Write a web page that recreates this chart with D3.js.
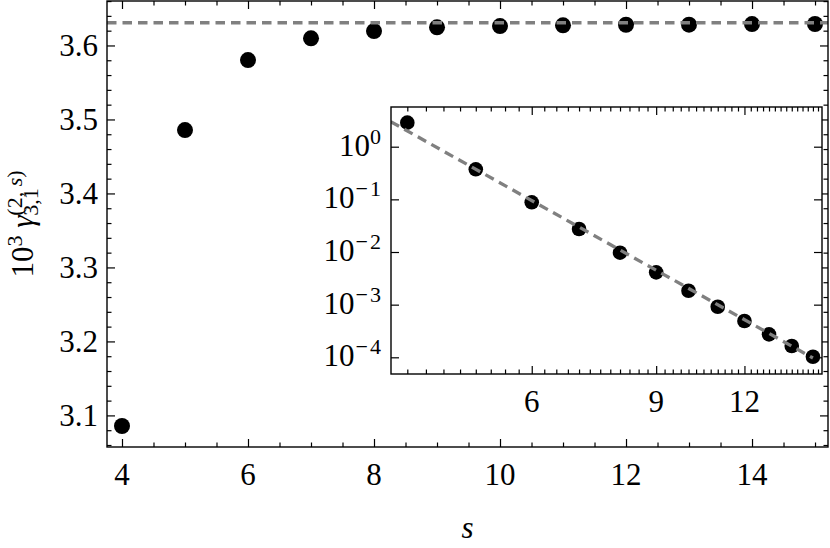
<!DOCTYPE html>
<html>
<head>
<meta charset="utf-8">
<script src="https://cdn.jsdelivr.net/npm/d3@7"></script>
<style>
body{margin:0;background:#fff;}
svg{display:block;font-family:'Liberation Serif','Times New Roman',serif;}
text{fill:#000;}
</style>
</head>
<body>
<div id="chart"></div>
<script>
//data
const sValues = [4,5,6,7,8,9,10,11,12,13,14,15];
const gammaValues = [3.0857,3.4857,3.5803,3.6096,3.6195,3.6245,3.6262,3.6272,3.6280,3.6281,3.6289,3.6290];
const asymptote = 3.6307;
const diffValues = [2.86,0.372,0.0879,0.02735,0.0097,0.00411,0.00184,0.000914,0.000489,0.000273,0.000164,0.0001026];
const fitS = [3.79,15];
const fitValues = [2.99,9.7e-5];
const xTickLabels = [4,6,8,10,12,14];
const yTickLabels = [3.1,3.2,3.3,3.4,3.5,3.6];
const insetXTickLabels = [6,9,12];
const insetYTickExponents = [0,-1,-2,-3,-4];

//layout
const C = {
    WIDTH:830,
    HEIGHT:548,
    LEFT:107, RIGHT:828, TOP:1, BOTTOM:447,          //main frame
    IN_LEFT:391, IN_RIGHT:822, IN_TOP:107, IN_BOTTOM:374, //inset frame
    MAJOR:8, MINOR:4.5,
    FONT:31,
    SCRIPT:22,
    GREY:'#808080'
};

const svg = d3.select('#chart').append('svg')
    .attr('width',C.WIDTH)
    .attr('height',C.HEIGHT);

//scales
const x = d3.scaleLinear().domain([3.762,15.206]).range([C.LEFT,C.RIGHT]);
const y = d3.scaleLinear().domain([3.0573,3.6601]).range([C.BOTTOM,C.TOP]);
const xi = d3.scaleLog().domain([3.793,15.45]).range([C.IN_LEFT,C.IN_RIGHT]);
const yi = d3.scaleLog().domain([Math.pow(10,-4.317),Math.pow(10,0.754)]).range([C.IN_BOTTOM,C.IN_TOP]);

//draws inward ticks on the four sides of a frame
function frameTicks(g,xs,ys,box,xMajor,xMinor,yMajor,yMinor,majLen,minLen){
    const sides = [
        [d3.axisBottom,xs,'translate(0,'+box.bottom+')',xMajor,xMinor],
        [d3.axisTop,xs,'translate(0,'+box.top+')',xMajor,xMinor],
        [d3.axisLeft,ys,'translate('+box.left+',0)',yMajor,yMinor],
        [d3.axisRight,ys,'translate('+box.right+',0)',yMajor,yMinor]
    ];
    sides.forEach(sd=>{
        [[sd[3],majLen],[sd[4],minLen]].forEach(t=>{
            if(!t[0].length) return;
            g.append('g')
                .attr('transform',sd[2])
                .call(sd[0](sd[1]).tickValues(t[0]).tickSize(-t[1]).tickFormat(''))
                .call(a=>a.select('.domain').remove())
                .selectAll('line')
                .attr('stroke','#000')
                .attr('stroke-width',1.2);
        });
    });
}

//---- main plot ----
const defs = svg.append('defs');
defs.append('clipPath').attr('id','mainClip')
    .append('rect')
    .attr('x',C.LEFT).attr('y',C.TOP)
    .attr('width',C.RIGHT-C.LEFT).attr('height',C.BOTTOM-C.TOP);

const mainG = svg.append('g');

let xMinor = d3.range(4,15.01,0.5).filter(v=>v%2!==0);
let yMinor = d3.range(3.06,3.661,0.02).map(v=>+v.toFixed(2)).filter(v=>Math.abs(v*10-Math.round(v*10))>1e-6);
frameTicks(mainG,x,y,{left:C.LEFT,right:C.RIGHT,top:C.TOP,bottom:C.BOTTOM},
    xTickLabels,xMinor,yTickLabels,yMinor,C.MAJOR,C.MINOR);

mainG.selectAll('circle')
    .data(sValues)
    .enter()
    .append('circle')
    .attr('cx',d=>x(d))
    .attr('cy',(d,i)=>y(gammaValues[i]))
    .attr('r',8)
    .attr('fill','#000');

mainG.append('line')
    .attr('clip-path','url(#mainClip)')
    .attr('x1',x.range()[0]).attr('x2',x.range()[1])
    .attr('y1',y(asymptote)).attr('y2',y(asymptote))
    .attr('stroke',C.GREY)
    .attr('stroke-width',3.3)
    .attr('stroke-dasharray','9.5,6');

mainG.append('rect')
    .attr('x',C.LEFT).attr('y',C.TOP)
    .attr('width',C.RIGHT-C.LEFT).attr('height',C.BOTTOM-C.TOP)
    .attr('fill','none')
    .attr('stroke','#000')
    .attr('stroke-width',1.4);

//tick labels
mainG.selectAll('.xlab')
    .data(xTickLabels)
    .enter()
    .append('text')
    .attr('class','xlab')
    .attr('x',d=>x(d))
    .attr('y',C.BOTTOM+38)
    .attr('text-anchor','middle')
    .style('font-size',C.FONT+'px')
    .text(d=>d);

mainG.selectAll('.ylab')
    .data(yTickLabels)
    .enter()
    .append('text')
    .attr('class','ylab')
    .attr('x',C.LEFT-9)
    .attr('y',d=>y(d)+10.5)
    .attr('text-anchor','end')
    .style('font-size',C.FONT+'px')
    .text(d=>d.toFixed(1));

//axis titles
svg.append('text')
    .attr('x',(C.LEFT+C.RIGHT)/2)
    .attr('y',538)
    .attr('text-anchor','middle')
    .style('font-size',C.FONT+'px')
    .style('font-style','italic')
    .text('s');

const yTitle = svg.append('text')
    .attr('transform','translate(33,'+((C.TOP+C.BOTTOM)/2)+') rotate(-90)')
    .style('font-size',C.FONT+'px');
yTitle.append('tspan').text('10');
yTitle.append('tspan').attr('dy',-11).style('font-size',C.SCRIPT+'px').text('3');
yTitle.append('tspan').attr('dy',11).text(' ');
yTitle.append('tspan').style('font-style','italic').text('\u03b3');
const sub = yTitle.append('tspan').attr('dy',5).style('font-size',C.SCRIPT+'px').text('3,1');
const subW = sub.node().getComputedTextLength();
yTitle.append('tspan').attr('dx',-subW).attr('dy',-16).style('font-size',C.SCRIPT+'px').text('(2, ');
yTitle.append('tspan').style('font-size',C.SCRIPT+'px').style('font-style','italic').text('s');
yTitle.append('tspan').style('font-size',C.SCRIPT+'px').text(')');
const tw = yTitle.node().getBBox().width;
yTitle.select('tspan').attr('x',-tw/2);

//---- inset ----
const inG = svg.append('g');
defs.append('clipPath').attr('id','insetClip')
    .append('rect')
    .attr('x',C.IN_LEFT).attr('y',C.IN_TOP)
    .attr('width',C.IN_RIGHT-C.IN_LEFT).attr('height',C.IN_BOTTOM-C.IN_TOP);

inG.append('rect')
    .attr('x',C.IN_LEFT).attr('y',C.IN_TOP)
    .attr('width',C.IN_RIGHT-C.IN_LEFT).attr('height',C.IN_BOTTOM-C.IN_TOP)
    .attr('fill','#fff');

let inXMinor = d3.range(4,15.3,0.25).filter(v=>insetXTickLabels.indexOf(v)<0);
let inYMajor = insetYTickExponents.map(e=>Math.pow(10,e));
frameTicks(inG,xi,yi,{left:C.IN_LEFT,right:C.IN_RIGHT,top:C.IN_TOP,bottom:C.IN_BOTTOM},
    insetXTickLabels,inXMinor,inYMajor,[],C.MAJOR,C.MINOR);

inG.selectAll('circle')
    .data(sValues)
    .enter()
    .append('circle')
    .attr('cx',d=>xi(d))
    .attr('cy',(d,i)=>yi(diffValues[i]))
    .attr('r',7.3)
    .attr('fill','#000');

inG.append('path')
    .datum(fitS.map((s,i)=>[s,fitValues[i]]))
    .attr('clip-path','url(#insetClip)')
    .attr('d',d3.line().x(d=>xi(d[0])).y(d=>yi(d[1])))
    .attr('fill','none')
    .attr('stroke',C.GREY)
    .attr('stroke-width',3.3)
    .attr('stroke-dasharray','9.5,6');

inG.append('rect')
    .attr('x',C.IN_LEFT).attr('y',C.IN_TOP)
    .attr('width',C.IN_RIGHT-C.IN_LEFT).attr('height',C.IN_BOTTOM-C.IN_TOP)
    .attr('fill','none')
    .attr('stroke','#000')
    .attr('stroke-width',1.4);

inG.selectAll('.ixlab')
    .data(insetXTickLabels)
    .enter()
    .append('text')
    .attr('class','ixlab')
    .attr('x',d=>xi(d))
    .attr('y',C.IN_BOTTOM+38)
    .attr('text-anchor','middle')
    .style('font-size',C.FONT+'px')
    .text(d=>d);

inG.selectAll('.iylab')
    .data(insetYTickExponents)
    .enter()
    .append('text')
    .attr('class','iylab')
    .attr('x',C.IN_LEFT-10)
    .attr('y',d=>yi(Math.pow(10,d))+9)
    .attr('text-anchor','end')
    .style('font-size',C.FONT+'px')
    .each(function(d){
        let t = d3.select(this);
        t.append('tspan').text('10');
        if(d<0){
            t.append('tspan').attr('dy',-12).attr('dx',1).style('font-size',C.SCRIPT+'px').text('\u2212');
            t.append('tspan').attr('dx',2).style('font-size',C.SCRIPT+'px').text(-d);
        } else {
            t.append('tspan').attr('dy',-12).style('font-size',C.SCRIPT+'px').text(d);
        }
    });
</script>
</body>
</html>
